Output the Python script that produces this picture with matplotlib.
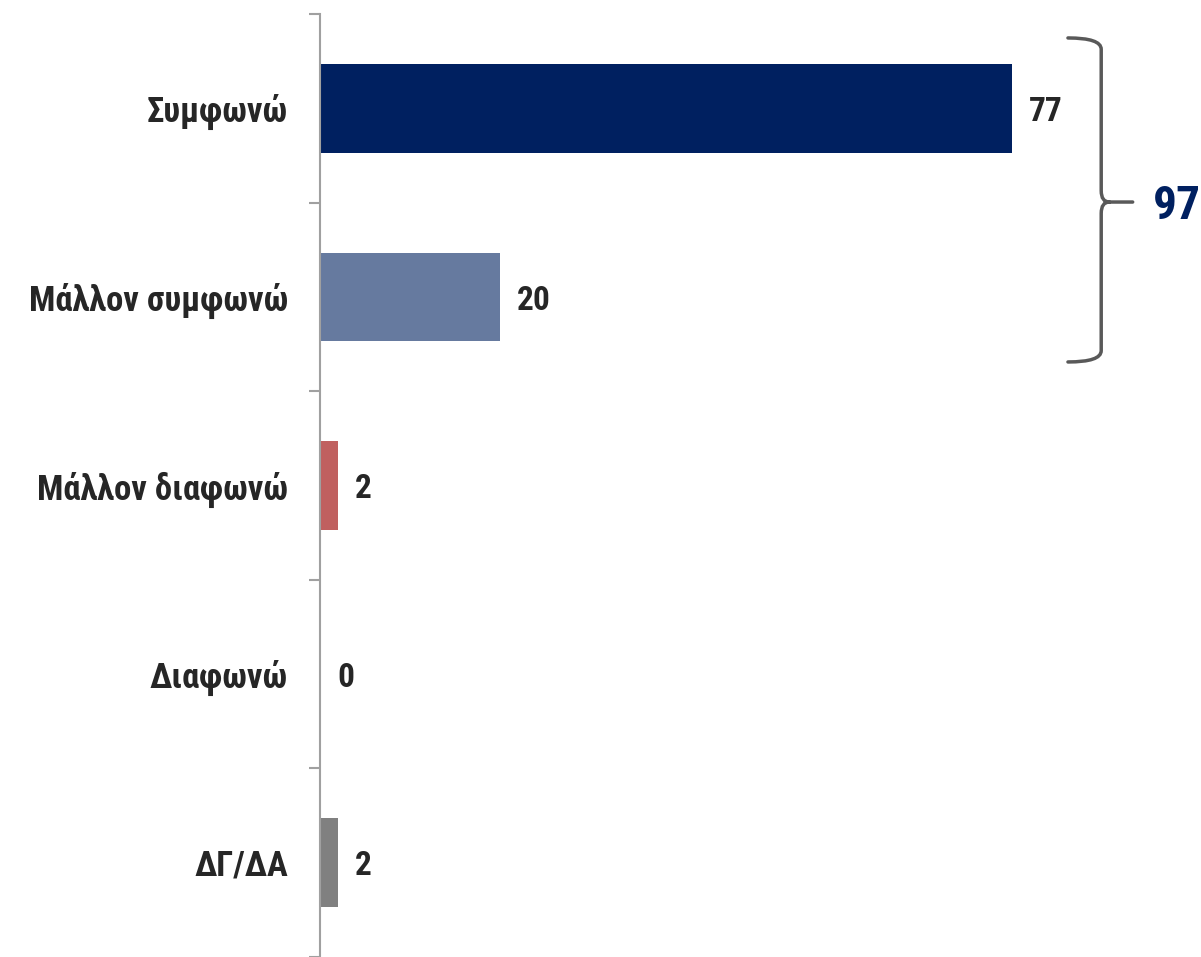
import matplotlib.pyplot as plt
from matplotlib.path import Path
from matplotlib.patches import PathPatch

categories = ["Συμφωνώ", "Μάλλον συμφωνώ", "Μάλλον διαφωνώ", "Διαφωνώ", "ΔΓ/ΔΑ"]
values = [77, 20, 2, 0, 2]
colors = ["#002060", "#667a9f", "#c0605f", "#ffffff", "#808080"]
total_label = "97"

plt.rcParams['font.family'] = ['Liberation Sans Narrow', 'Arial Narrow', 'Roboto Condensed',
                               'Liberation Sans', 'DejaVu Sans']
plt.rcParams['font.weight'] = 'bold'

fig = plt.figure(figsize=(12.01, 9.57), dpi=100)
ax = fig.add_axes([320 / 1201, 0, 881 / 1201, 943 / 957])

y = list(range(len(categories)))
ax.barh(y, values, height=0.47, color=colors)
ax.set_xlim(0, 98)
ax.set_ylim(len(categories) - 0.5, -0.5)

for yi, v in zip(y, values):
    ax.text(v + 1.9, yi + 0.02, str(v), va='center', ha='left', fontsize=24,
            color='#262626', fontweight='bold')

# spine and ticks
for s in ['top', 'right', 'bottom']:
    ax.spines[s].set_visible(False)
ax.spines['left'].set_color('#a0a0a0')
ax.spines['left'].set_linewidth(1.5)
ax.set_xticks([])
ax.set_yticks([i - 0.5 for i in range(len(categories) + 1)])
ax.set_yticklabels([])
ax.tick_params(axis='y', which='major', length=8, width=1.5, color='#a0a0a0', direction='out')
ax.set_yticks(y, minor=True)
ax.set_yticklabels(categories, minor=True, fontsize=25, color='#262626', fontweight='bold')
ax.tick_params(axis='y', which='minor', length=0, pad=23)

# brace around first two bars
x0, x1, xt = 83.2, 86.9, 90.4
ytop, ybot, ymid = -0.373, 1.345, 0.497
r = 0.06
dx = 0.9
verts = [
    (x0, ytop), (x1, ytop), (x1, ytop + r),
    (x1, ymid - r), (x1, ymid), (x1 + dx, ymid), (xt, ymid),
    (x1 + dx, ymid), (x1, ymid), (x1, ymid + r),
    (x1, ybot - r), (x1, ybot), (x0, ybot),
]
codes = [Path.MOVETO, Path.CURVE3, Path.CURVE3,
         Path.LINETO, Path.CURVE3, Path.CURVE3, Path.LINETO,
         Path.MOVETO, Path.CURVE3, Path.CURVE3,
         Path.LINETO, Path.CURVE3, Path.CURVE3]
brace = PathPatch(Path(verts, codes), fill=False, edgecolor='#595959', linewidth=2.5,
                  clip_on=False, transform=ax.transData, capstyle='round')
ax.add_patch(brace)
ax.text(92.6, ymid + 0.02, total_label, va='center', ha='left', fontsize=34,
        color='#002060', fontweight='bold', clip_on=False)

fig.savefig('out.png', dpi=100)
